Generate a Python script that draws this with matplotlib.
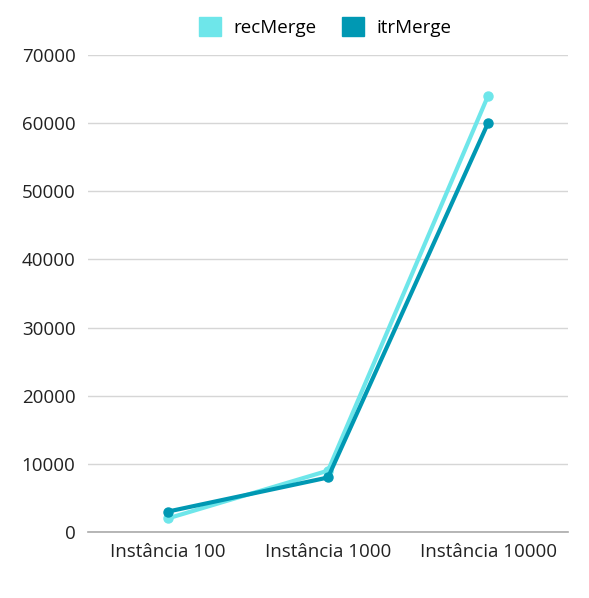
import matplotlib
matplotlib.use("Agg")
import matplotlib.pyplot as plt
from matplotlib.patches import Patch

categories = ["Instância 100", "Instância 1000", "Instância 10000"]
rec_merge = [2000, 9000, 64000]
itr_merge = [3000, 8000, 60000]
series_names = ["recMerge", "itrMerge"]
colors = ["#6ee6ea", "#0098b3"]
yticks = [0, 10000, 20000, 30000, 40000, 50000, 60000, 70000]

plt.rcParams['font.family'] = ['Open Sans', 'DejaVu Sans']

fig = plt.figure(figsize=(5.89, 5.98), dpi=100)
ax = fig.add_axes([88/589, 1-532/598, 480/589, (532-55)/598])

x = list(range(len(categories)))
for vals, c, name in zip([rec_merge, itr_merge], colors, series_names):
    ax.plot(x, vals, color=c, lw=3, marker='o', ms=6.5, label=name, solid_capstyle='round')

ax.set_xlim(-0.5, 2.5)
ax.set_ylim(0, 70000)
ax.set_yticks(yticks)
ax.set_yticklabels([str(v) for v in yticks])
ax.set_xticks(x)
ax.set_xticklabels(categories)
ax.grid(axis='y', color='#d6d6d6', lw=1)
ax.set_axisbelow(True)
for s in ['top', 'right', 'left']:
    ax.spines[s].set_visible(False)
ax.spines['bottom'].set_color('#aaaaaa')
ax.spines['bottom'].set_linewidth(1.2)
ax.tick_params(axis='both', length=0, labelsize=13.5, colors='#222222')
ax.tick_params(axis='y', pad=9)
ax.tick_params(axis='x', pad=8)

handles = [Patch(color=c, label=n) for c, n in zip(colors, series_names)]
fig.legend(handles=handles, loc='center', bbox_to_anchor=(0.552, 1-27/598), ncol=2,
           frameon=False, fontsize=13.5, handlelength=1.15, handleheight=1.15,
           columnspacing=1.4, handletextpad=0.65)

fig.savefig("out.png", dpi=100)
